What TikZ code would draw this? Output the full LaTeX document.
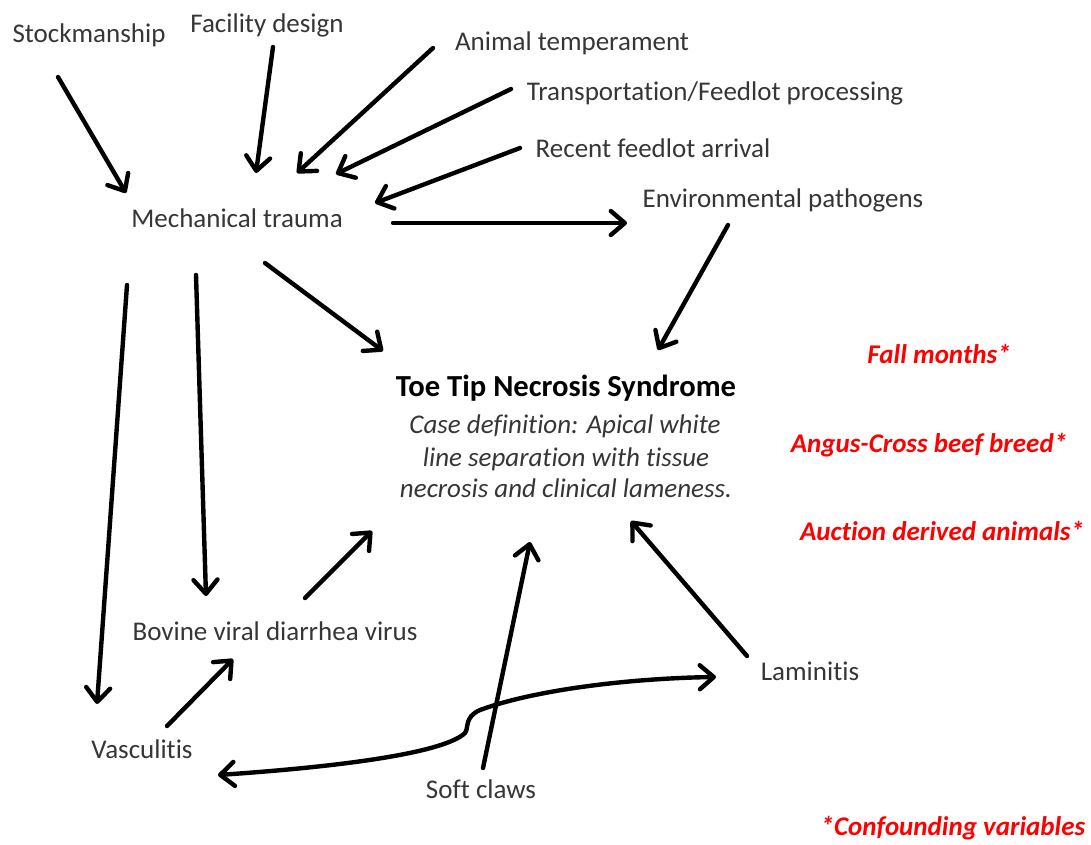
\documentclass[tikz,border=0pt]{standalone}
\usepackage{fontspec}
\setmainfont[Ligatures={NoCommon,NoContextual},RawFeature={-clig;-dlig}]{Carlito}
\usetikzlibrary{arrows.meta}
\definecolor{txt}{HTML}{363636}
\definecolor{confred}{HTML}{FF0000}
\tikzset{
  lab/.style={text=txt, font=\fontsize{27}{32}\selectfont, inner sep=0pt, text height=18pt, text depth=0pt},
  ttl/.style={text=black, font=\fontsize{30.6}{36}\selectfont\bfseries, inner sep=0pt, text height=18pt, text depth=0pt},
  deftext/.style={text=txt, font=\fontsize{27}{32}\selectfont\itshape, inner sep=0pt, text height=18pt, text depth=0pt},
  conf/.style={text=confred, font=\fontsize{27}{32}\selectfont\bfseries\itshape, inner sep=0pt, text height=18pt, text depth=0pt},
  arr/.style={draw=black, line width=4.4pt, line cap=round, -{Straight Barb[length=14pt,width=24pt,round]}},
  darr/.style={draw=black, line width=4.4pt, line cap=round, {Straight Barb[length=14pt,width=24pt,round]}-{Straight Barb[length=14pt,width=24pt,round]}}
}
\begin{document}
\begin{tikzpicture}[x=1pt,y=-1pt]
\useasboundingbox (0,0) rectangle (1091,844);
\fill[white] (0,0) rectangle (1091,844);
% nodes
\node[lab] (stock) at (89,33) {Stockmanship};
\node[lab] (fac) at (267,23) {Facility design};
\node[lab] (anim) at (572,41) {Animal temperament};
\node[lab] (trans) at (715,91) {Transportation/Feedlot processing};
\node[lab] (recent) at (653,148) {Recent feedlot arrival};
\node[lab] (env) at (783,198) {Environmental pathogens};
\node[lab] (mech) at (237,218) {Mechanical trauma};
\node[ttl] (toe) at (566,387) {Toe Tip Necrosis Syndrome};
\node[deftext] (def1) at (565,424) {Case definition: Apical white};
\node[deftext] (def2) at (566,457) {line separation with tissue};
\node[deftext] (def3) at (566,488) {necrosis and clinical lameness.};
\node[conf] (fall) at (939,354) {Fall months*};
\node[conf] (angus) at (929,443) {Angus-Cross beef breed*};
\node[conf] (auction) at (942,531) {Auction derived animals*};
\node[conf] (confound) at (953,826) {*Confounding variables};
\node[lab] (bvdv) at (275,631) {Bovine viral diarrhea virus};
\node[lab] (lam) at (810,671) {Laminitis};
\node[lab] (vasc) at (142,749) {Vasculitis};
\node[lab] (soft) at (481,789) {Soft claws};
% connectors
\draw[arr] ([shift={(-31,44)}]stock.center) -- ([shift={(-111,-25)}]mech.center);
\draw[arr] ([shift={(6,24)}]fac.center) -- ([shift={(19,-45)}]mech.center);
\draw[arr] ([shift={(-139,7)}]anim.center) -- ([shift={(60,-45)}]mech.center);
\draw[arr] ([shift={(-204,-2)}]trans.center) -- ([shift={(99,-44)}]mech.center);
\draw[arr] ([shift={(-133,0)}]recent.center) -- ([shift={(138,-15)}]mech.center);
\draw[arr] ([shift={(156,5)}]mech.center) -- ([shift={(-156,25)}]env.center);
\draw[arr] ([shift={(-55,27)}]env.center) -- ([shift={(92,-37)}]toe.center);
\draw[arr] ([shift={(28,45)}]mech.center) -- ([shift={(-183,-36)}]toe.center);
\draw[arr] ([shift={(-41,57)}]mech.center) -- ([shift={(-69,-35)}]bvdv.center);
\draw[arr] ([shift={(-110,67)}]mech.center) -- ([shift={(-45,-45)}]vasc.center);
\draw[arr] ([shift={(30,-33)}]bvdv.center) -- ([shift={(-194,144)}]toe.center);
\draw[arr] ([shift={(25,-23)}]vasc.center) -- ([shift={(-42,28)}]bvdv.center);
\draw[darr] ([shift={(76,26)}]vasc.center) .. controls (350,766) and (445,752) .. (465,733)
  .. controls (469,728) and (464,717) .. (480,710)
  .. controls (540,688) and (640,678) .. ([shift={(-94,6)}]lam.center);
\draw[arr] ([shift={(2,-21)}]soft.center) -- ([shift={(-36,155)}]toe.center);
\draw[arr] ([shift={(-63,-15)}]lam.center) -- ([shift={(65,134)}]toe.center);
\end{tikzpicture}
\end{document}
